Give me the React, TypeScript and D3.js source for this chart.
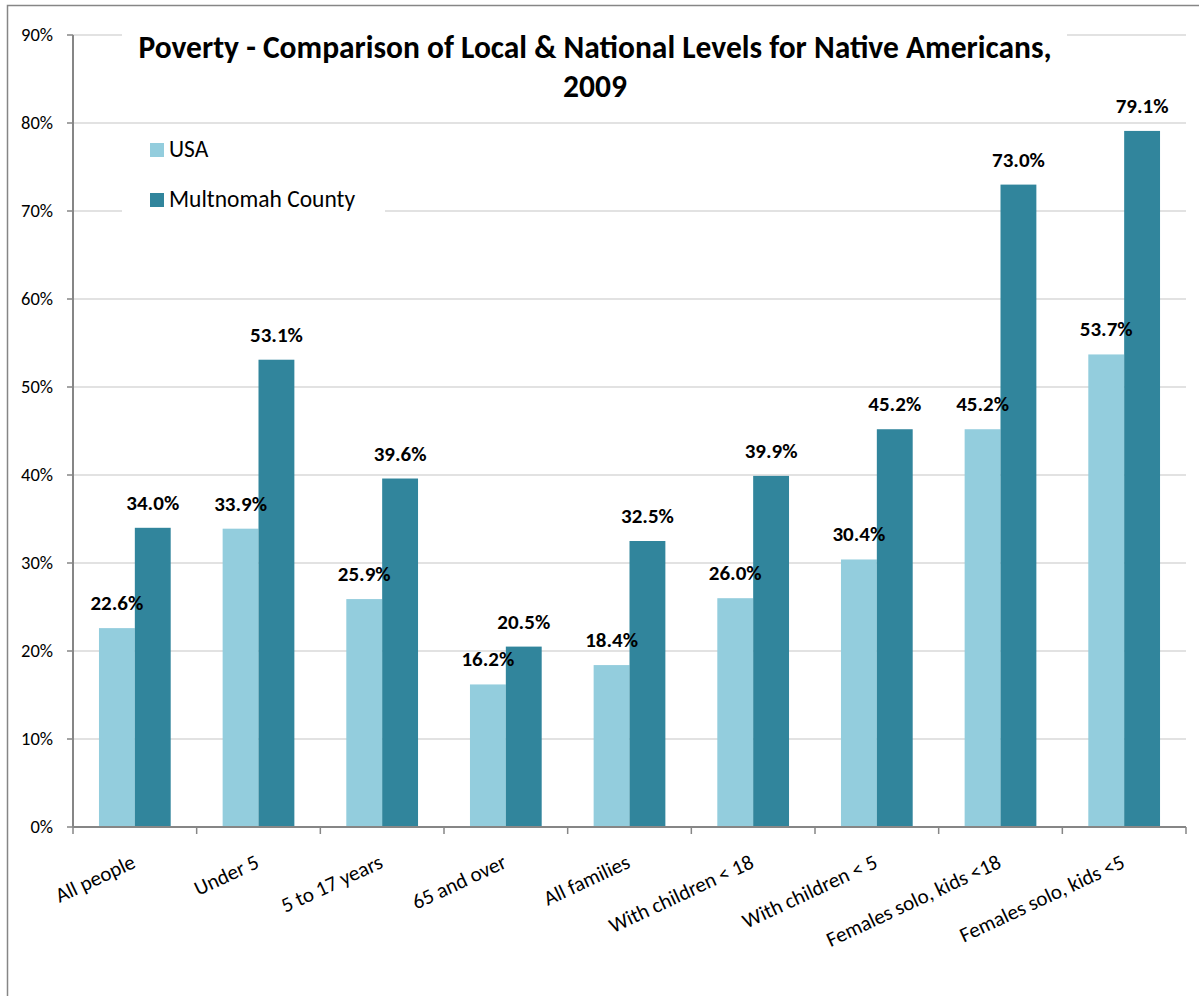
import React from "react";
import * as d3 from "d3";

const categories = [
  "All people",
  "Under 5",
  "5 to 17 years",
  "65 and over",
  "All families",
  "With children < 18",
  "With children < 5",
  "Females solo, kids <18",
  "Females solo, kids <5",
];
const usaValues = [22.6, 33.9, 25.9, 16.2, 18.4, 26.0, 30.4, 45.2, 53.7];
const countyValues = [34.0, 53.1, 39.6, 20.5, 32.5, 39.9, 45.2, 73.0, 79.1];
const seriesNames = ["USA", "Multnomah County"];
const seriesColors = ["#93cddd", "#31859c"];
const yTicks = [0, 10, 20, 30, 40, 50, 60, 70, 80, 90];
const titleLines = [
  "Poverty - Comparison of Local & National Levels for Native Americans,",
  "2009",
];

const FONT = "Carlito, Calibri, Lato, 'Open Sans', sans-serif";
const W = 1199;
const H = 996;
const AXIS = "#868686";
const GRID = "#d9d9d9";

const App: React.FC = () => {
  const plot = { left: 73, right: 1186, top: 35, bottom: 827 };

  const x0 = d3
    .scaleBand<string>()
    .domain(categories)
    .range([plot.left, plot.right])
    .paddingInner(0.42)
    .paddingOuter(0.21);

  const x1 = d3
    .scaleBand<string>()
    .domain(seriesNames)
    .range([0, x0.bandwidth()]);

  const y = d3.scaleLinear().domain([0, 90]).range([plot.bottom, plot.top]);

  const series = [usaValues, countyValues];
  const step = x0.step();
  const edges = d3.range(categories.length + 1).map((i) => plot.left + i * step);

  return (
    <svg
      width={W}
      height={H}
      style={{ position: "absolute", left: 0, top: 0, display: "block", background: "#fff" }}
      fontFamily={FONT}
    >
      {/* chart frame */}
      <rect x={7.5} y={5.5} width={W + 10} height={H + 10} fill="#fff" stroke={AXIS} strokeWidth={1.5} />

      {/* gridlines */}
      {yTicks.slice(1).map((t) => (
        <line key={t} x1={plot.left} x2={plot.right} y1={y(t)} y2={y(t)} stroke={GRID} strokeWidth={1.5} />
      ))}

      {/* title and legend boxes hide the gridlines behind them */}
      <rect x={122} y={22} width={945} height={88} fill="#fff" />
      <rect x={122} y={128} width={263} height={95} fill="#fff" />

      {/* bars */}
      {categories.map((c, i) => (
        <g key={c} transform={`translate(${x0(c)},0)`}>
          {seriesNames.map((s, j) => (
            <rect
              key={s}
              x={x1(s)}
              y={y(series[j][i])}
              width={x1.bandwidth()}
              height={y(0) - y(series[j][i])}
              fill={seriesColors[j]}
            />
          ))}
        </g>
      ))}

      {/* data labels */}
      {categories.map((c, i) =>
        seriesNames.map((s, j) => (
          <text
            key={c + s}
            x={(x0(c) || 0) + (x1(s) || 0) + x1.bandwidth() / 2}
            y={y(series[j][i]) - 18}
            textAnchor="middle"
            fontSize={21}
            fontWeight="bold"
            fill="#000"
          >
            {series[j][i].toFixed(1)}%
          </text>
        ))
      )}

      {/* y axis */}
      <line x1={plot.left} x2={plot.left} y1={plot.top} y2={plot.bottom} stroke={AXIS} strokeWidth={2} />
      {yTicks.map((t) => (
        <g key={t}>
          <line x1={plot.left - 6} x2={plot.left} y1={y(t)} y2={y(t)} stroke={AXIS} strokeWidth={1.5} />
          <text x={53} y={y(t)} dy="0.35em" textAnchor="end" fontSize={18.5} fill="#000">
            {t}%
          </text>
        </g>
      ))}

      {/* x axis */}
      <line x1={plot.left} x2={plot.right} y1={plot.bottom} y2={plot.bottom} stroke={AXIS} strokeWidth={2} />
      {edges.map((e, i) => (
        <line key={i} x1={e} x2={e} y1={plot.bottom} y2={plot.bottom + 7} stroke={AXIS} strokeWidth={1.5} />
      ))}
      {categories.map((c) => {
        const cx = (x0(c) || 0) + x0.bandwidth() / 2;
        return (
          <text
            key={c}
            transform={`translate(${cx + 2},867) rotate(-25)`}
            textAnchor="end"
            fontSize={21}
            fill="#000"
          >
            {c}
          </text>
        );
      })}

      {/* title */}
      {titleLines.map((line, i) => (
        <text key={i} x={595} y={58 + i * 39} textAnchor="middle" fontSize={31.5} fontWeight="bold" fill="#000">
          {line}
        </text>
      ))}

      {/* legend */}
      {seriesNames.map((s, i) => (
        <g key={s} transform={`translate(150,${143 + i * 50})`}>
          <rect width={14} height={14} fill={seriesColors[i]} />
          <text x={19} y={14} fontSize={23.5} fill="#000">
            {s}
          </text>
        </g>
      ))}
    </svg>
  );
};

export default App;
